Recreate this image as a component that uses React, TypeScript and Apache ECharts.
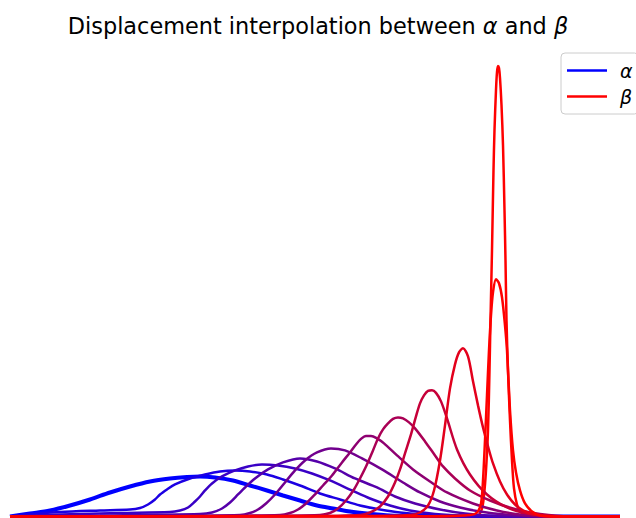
import React, { useEffect, useRef } from "react";
import * as echarts from "echarts";

// Positions (x) and densities (y)
const alpha: number[][] = [
  [0, 0], [20, 3], [40, 6], [60, 11], [80, 17], [100, 24], [120, 30], [140, 35], [160, 38], [177, 39.5],
  [190, 40], [205, 39], [223, 36], [240, 31], [257, 26], [273, 21], [290, 16], [307, 11], [323, 8],
  [340, 5], [357, 3], [380, 1], [410, 0], [610, 0],
];
const beta: number[][] = [
  [0, 0], [460, 0], [468, 1], [472, 8], [474, 21], [476, 46], [478, 86], [479.5, 146], [480.5, 196],
  [482, 266], [483.5, 346], [484.5, 386], [486, 426], [487, 444], [488, 450], [489, 448], [490, 438],
  [491.5, 411], [493, 371], [494.5, 306], [495.5, 256], [496.5, 196], [498, 146], [500, 96], [502, 56],
  [504, 28], [507, 12], [511, 4], [518, 0.5], [530, 0], [610, 0],
];
const interp1: number[][] = [
  [0, 0], [20, 2.5], [50, 4.5], [90, 6], [120, 7], [130, 8.5], [138, 12], [145, 17], [150, 22], [157, 27],
  [165, 32], [180, 38], [195, 42], [210, 45], [225, 46], [240, 45], [257, 42], [273, 37], [290, 31],
  [310, 23], [330, 17], [350, 11], [370, 7], [390, 4], [420, 1.5], [460, 0], [610, 0],
];
const interp2: number[][] = [
  [0, 0], [50, 2], [110, 3.5], [160, 4.5], [170, 6], [178, 9], [185, 15], [190, 20], [195, 26], [202, 33],
  [212, 40], [225, 46], [238, 50], [252, 52], [268, 51], [285, 48], [302, 43], [320, 36], [342, 26],
  [360, 18], [380, 11], [400, 6], [425, 2.5], [460, 0.5], [490, 0], [610, 0],
];
const interp3: number[][] = [
  [0, 0], [90, 1], [190, 2.5], [202, 4], [212, 8], [220, 14], [228, 22], [235, 29], [245, 38], [258, 47],
  [273, 54], [290, 58], [307, 55], [325, 48], [345, 38], [367, 29], [385, 20], [405, 13], [430, 7],
  [455, 3], [485, 0.5], [520, 0], [610, 0],
];
const interp4: number[][] = [
  [0, 0], [140, 0.5], [230, 1.5], [240, 3.5], [248, 7], [256, 13], [265, 22], [275, 34], [285, 46],
  [295, 56], [307, 64], [321, 68], [335, 66], [352, 58], [372, 47], [393, 34], [410, 24], [430, 15],
  [450, 9], [470, 5], [495, 2], [520, 0.5], [550, 0], [610, 0],
];
const interp5: number[][] = [
  [0, 0], [190, 0.5], [270, 1.5], [280, 3.5], [288, 7], [296, 13], [304, 21], [313, 31], [322, 41],
  [332, 54], [340, 64], [346, 72], [351, 77.5], [356, 80.5], [361, 80.5], [367, 78], [374, 73], [387, 61],
  [403, 47], [420, 35], [437, 24], [463, 13], [487, 6], [510, 2], [540, 0], [610, 0],
];
const interp6: number[][] = [
  [0, 0], [240, 0.5], [310, 1.5], [320, 3.5], [328, 8], [336, 16], [344, 27], [350, 38], [356, 50],
  [363, 66], [368, 78], [373, 87], [378, 93], [383, 97.5], [388, 99], [393, 98], [399, 94], [405, 88],
  [415, 75], [425, 61], [433, 50], [445, 38], [460, 26], [480, 16], [503, 8], [530, 2.5], [560, 0], [610, 0],
];
const interp7: number[][] = [
  [0, 0], [290, 0.5], [350, 1.5], [360, 4], [370, 10], [378, 20], [385, 34], [390, 47], [395, 63],
  [401, 82], [406, 100], [410, 113], [414, 121], [418, 125.5], [422, 126], [426, 123.5], [431, 115],
  [437, 98], [447, 67], [460, 42], [477, 22], [497, 9], [517, 3], [540, 0.5], [565, 0], [610, 0],
];
const interp8: number[][] = [
  [0, 0], [340, 0.5], [400, 1.5], [410, 4], [418, 11], [424, 26], [430, 56], [435, 91], [440, 128],
  [445, 152], [449, 164], [453, 168], [458, 160], [463, 135], [468, 111], [473, 89], [478, 70], [483, 53],
  [490, 35], [497, 22], [505, 12], [515, 5], [530, 1], [550, 0], [610, 0],
];
const interp9: number[][] = [
  [0, 0], [430, 0.5], [460, 1.5], [467, 4], [471, 13], [473, 36], [475, 76], [477, 121], [479, 166],
  [481, 201], [483, 224], [486, 237], [489, 233], [492, 219], [495, 191], [497, 166], [500, 106],
  [503, 66], [506, 44], [510, 26], [515, 13], [522, 5], [530, 1], [550, 0], [610, 0],
];
const interpCurves = [interp1, interp2, interp3, interp4, interp5, interp6, interp7, interp8, interp9];
const interpTimes = [1, 2, 3, 4, 5, 6, 7, 8, 9]; // t = k / 9

const mix = (k: number) => {
  const t = k / 9;
  return `rgb(${Math.round(255 * t)},0,${Math.round(255 * (1 - t))})`;
};

export default function App() {
  const ref = useRef<HTMLDivElement>(null);
  useEffect(() => {
    if (!ref.current) return;
    const chart = echarts.init(ref.current, null, { renderer: "svg" });
    const base = {
      type: "line" as const,
      showSymbol: false,
      symbol: "none",
      smooth: 0.3,
      clip: false,
      z: 2,
    };
    const series: any[] = [
      { ...base, name: "α", data: alpha, lineStyle: { color: "#0000ff", width: 4 }, itemStyle: { color: "#0000ff" } },
      { ...base, name: "β", data: beta, lineStyle: { color: "#ff0000", width: 2.5 }, itemStyle: { color: "#ff0000" } },
      ...interpCurves.map((d, i) => ({
        ...base,
        name: `t${interpTimes[i]}`,
        data: d,
        lineStyle: { color: mix(interpTimes[i]), width: 2.5 },
        itemStyle: { color: mix(interpTimes[i]) },
      })),
    ];
    chart.setOption({
      animation: false,
      backgroundColor: "#ffffff",
      title: {
        text: "Displacement interpolation between {i|α} and {i|β}",
        left: "center",
        top: 10,
        textStyle: {
          fontFamily: "DejaVu Sans",
          fontSize: 22.4,
          fontWeight: "normal",
          color: "#000",
          rich: { i: { fontFamily: "DejaVu Sans", fontSize: 22.4, fontStyle: "italic", color: "#000" } },
        },
      },
      legend: {
        data: ["α", "β"],
        orient: "vertical",
        left: 561,
        top: 53,
        icon: "rect",
        itemWidth: 40,
        itemHeight: 2.5,
        itemGap: 7,
        padding: [8, 6, 8, 6],
        borderColor: "#cccccc",
        borderWidth: 1,
        borderRadius: 4,
        backgroundColor: "#ffffff",
        textStyle: { fontFamily: "DejaVu Sans", fontSize: 19, fontStyle: "italic", color: "#000", padding: [0, 0, 0, 8] },
      },
      grid: { left: 10, right: 16, top: 66, bottom: 1.5 },
      xAxis: { type: "value", min: 0, max: 610, show: false },
      yAxis: { type: "value", min: 0, max: 450, show: false },
      series,
    });
    return () => chart.dispose();
  }, []);
  return <div ref={ref} style={{ width: 636, height: 518, position: "absolute", left: 0, top: 0 }} />;
}
